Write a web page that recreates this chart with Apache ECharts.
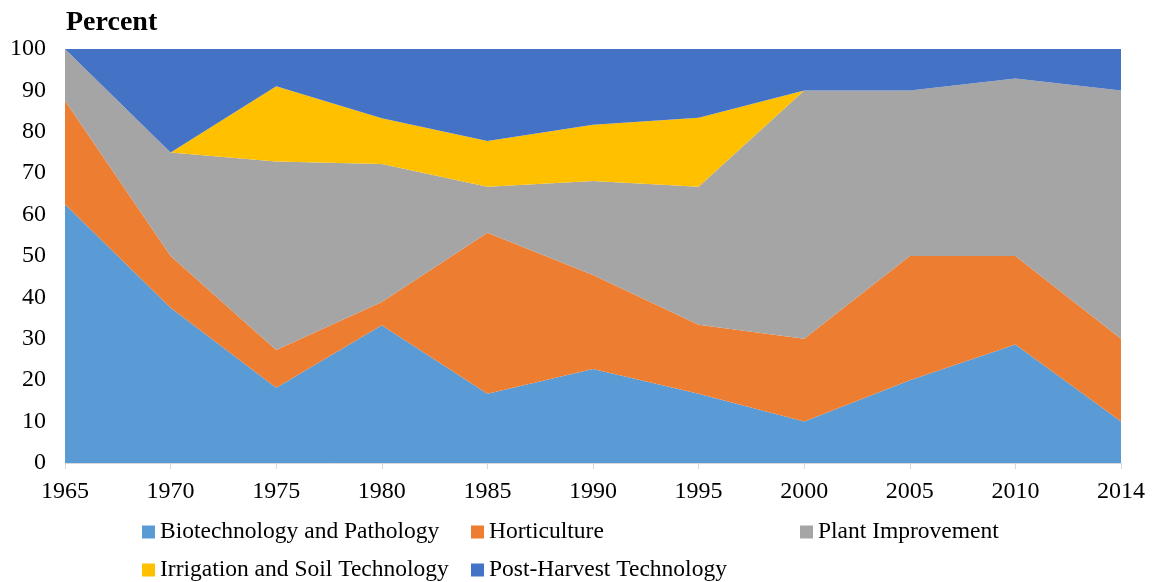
<!DOCTYPE html>
<html>
<head>
<meta charset="utf-8">
<script src="https://cdn.jsdelivr.net/npm/echarts@6/dist/echarts.min.js"></script>
<style>
  html, body { margin: 0; padding: 0; background: #fff; }
  #chart { width: 1154px; height: 582px; }
</style>
</head>
<body>
<div id="chart"></div>
<script>
// data
const years = ['1965', '1970', '1975', '1980', '1985', '1990', '1995', '2000', '2005', '2010', '2014']
const biotech = [62.5, 37.5, 18.2, 33.3, 16.7, 22.7, 16.7, 10, 20, 28.6, 10]
const horticulture = [25, 12.5, 9.1, 5.6, 38.9, 22.7, 16.7, 20, 30, 21.4, 20]
const plantImprovement = [12.5, 25, 45.5, 33.3, 11.1, 22.7, 33.3, 60, 40, 42.9, 60]
const irrigation = [0, 0, 18.2, 11.1, 11.1, 13.6, 16.7, 0, 0, 0, 0]
const postHarvest = [0, 25, 9.0, 16.7, 22.2, 18.3, 16.6, 10, 10, 7.1, 10]

const names = ['Biotechnology and Pathology', 'Horticulture', 'Plant Improvement',
  'Irrigation and Soil Technology', 'Post-Harvest Technology']
const colors = ['#5B9BD5', '#ED7D31', '#A5A5A5', '#FFC000', '#4472C4']
const values = [biotech, horticulture, plantImprovement, irrigation, postHarvest]

const font = '"Liberation Serif", "Times New Roman", serif'
const myChart = echarts.init(document.getElementById('chart'))

// one legend per entry so the columns line up like the original
const legendSpots = [[142, 520], [471, 520], [800, 520], [142, 558], [471, 558]]
const legends = names.map((n, i) => ({
  data: [n],
  left: legendSpots[i][0],
  top: legendSpots[i][1],
  padding: 0,
  itemWidth: 13,
  itemHeight: 13,
  itemGap: 0,
  icon: 'rect',
  textStyle: {
    fontFamily: font,
    fontSize: 23.5,
    color: '#000'
  }
}))

const option = {
  color: colors,
  animation: false,
  title: {
    text: 'Percent',
    left: 61,
    top: 4,
    textStyle: {
      fontFamily: font,
      fontSize: 28,
      fontWeight: 'bold',
      color: '#000'
    }
  },
  legend: legends,
  grid: {
    left: 65,
    right: 33,
    top: 49,
    bottom: 119
  },
  xAxis: {
    type: 'category',
    data: years,
    boundaryGap: false,
    axisLine: { lineStyle: { color: '#D9D9D9', width: 1 } },
    axisTick: { show: true, length: 6, alignWithLabel: true, lineStyle: { color: '#D9D9D9' } },
    axisLabel: {
      fontFamily: font,
      fontSize: 24,
      color: '#000',
      margin: 17
    }
  },
  yAxis: {
    type: 'value',
    min: 0,
    max: 100,
    interval: 10,
    splitLine: { show: false },
    axisLine: { show: false },
    axisTick: { show: false },
    axisLabel: {
      fontFamily: font,
      fontSize: 24,
      color: '#000',
      margin: 19
    }
  },
  series: values.map((v, i) => ({
    name: names[i],
    type: 'line',
    stack: 'total',
    data: v,
    symbol: 'none',
    lineStyle: { width: 0 },
    areaStyle: { color: colors[i], opacity: 1 },
    itemStyle: { color: colors[i] }
  }))
}

myChart.setOption(option)
</script>
</body>
</html>
